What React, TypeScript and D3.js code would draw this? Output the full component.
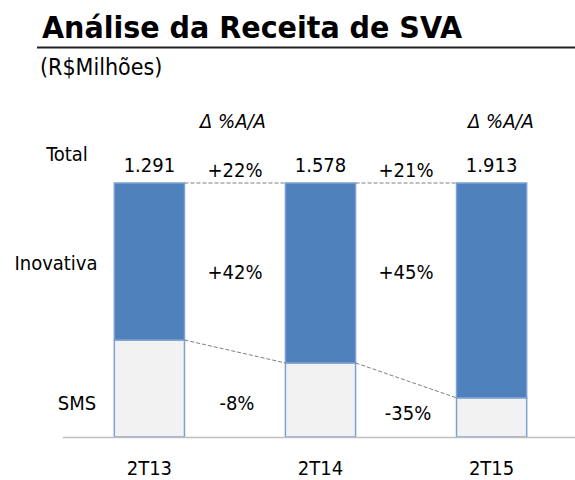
import React from "react";
import * as d3 from "d3";

const categories = ["2T13", "2T14", "2T15"];
const totals = [1291, 1578, 1913];
const totalLabels = ["1.291", "1.578", "1.913"];
const sms = [493, 460, 295];
const inovativa = totals.map((t, i) => t - sms[i]);
const growthTotal = ["+22%", "+21%"];
const growthInov = ["+42%", "+45%"];
const growthSms = ["-8%", "-35%"];
const rowLabels = ["Total", "Inovativa", "SMS"];

const W = 575;
const H = 480;
const FONT = "'DejaVu Sans Condensed', 'DejaVu Sans', sans-serif";

export default function App() {
  const x = d3.scaleBand().domain(categories).range([63, 578]).paddingInner(0.59).paddingOuter(0.3);
  const y = d3.scaleLinear().domain([0, 1]).range([437, 183]);
  const series = d3.stack<any>().keys(["sms", "inov"])(
    categories.map((c, i) => ({ cat: c, sms: sms[i] / totals[i], inov: inovativa[i] / totals[i] }))
  );
  const colors = ["#f2f2f2", "#4f81bd"];
  const bw = x.bandwidth();
  const mid = (i: number) => ((x(categories[i])! + bw) + x(categories[i + 1])!) / 2;
  const smsTop = (i: number) => y(sms[i] / totals[i]);
  const fs = 20;

  return (
    <svg width={W} height={H} style={{ position: "absolute", left: 0, top: 0, background: "#fff" }} fontFamily={FONT}>
      <text x={42} y={38} fontSize={31} fontWeight="bold" fill="#000" textLength={420} lengthAdjust="spacingAndGlyphs">Análise da Receita de SVA</text>
      <line x1={37} x2={575} y1={47.5} y2={47.5} stroke="#222" strokeWidth={2} />
      <text x={40} y={75} fontSize={23} fill="#000">(R$Milhões)</text>

      {series.map((s, si) =>
        s.map((d, i) => (
          <rect key={si + "-" + i} x={x(categories[i])} y={y(d[1])} width={bw} height={y(d[0]) - y(d[1])}
            fill={colors[si]} stroke="#7ea1d1" strokeWidth={1.5} />
        ))
      )}
      <line x1={63} x2={575} y1={437.5} y2={437.5} stroke="#bfbfbf" strokeWidth={1.5} />

      {[0, 1].map((i) => (
        <g key={"dash" + i} stroke="#808080" strokeWidth={1} strokeDasharray="4,2">
          <line x1={x(categories[i])! + bw} x2={x(categories[i + 1])} y1={y(1)} y2={y(1)} />
          <line x1={x(categories[i])! + bw} x2={x(categories[i + 1])} y1={smsTop(i)} y2={smsTop(i + 1)} />
        </g>
      ))}

      {categories.map((c, i) => (
        <g key={c} fontSize={fs} textAnchor="middle" fill="#000">
          <text x={x(c)! + bw / 2} y={172}>{totalLabels[i]}</text>
          <text x={x(c)! + bw / 2} y={475}>{c}</text>
        </g>
      ))}

      {[0, 1].map((i) => (
        <g key={"g" + i} fontSize={fs} textAnchor="middle" fill="#000">
          <text x={mid(i)} y={177}>{growthTotal[i]}</text>
          <text x={mid(i)} y={279}>{growthInov[i]}</text>
          <text x={mid(i) + 2} y={410 + i * 10}>{growthSms[i]}</text>
        </g>
      ))}
      <text x={233} y={128} fontSize={fs} fontStyle="italic" textAnchor="middle">Δ %A/A</text>
      <text x={501} y={128} fontSize={fs} fontStyle="italic" textAnchor="middle">Δ %A/A</text>

      <text x={67} y={161} fontSize={fs} textAnchor="middle">{rowLabels[0]}</text>
      <text x={56} y={270} fontSize={fs} textAnchor="middle">{rowLabels[1]}</text>
      <text x={77} y={410} fontSize={fs} textAnchor="middle">{rowLabels[2]}</text>
    </svg>
  );
}
